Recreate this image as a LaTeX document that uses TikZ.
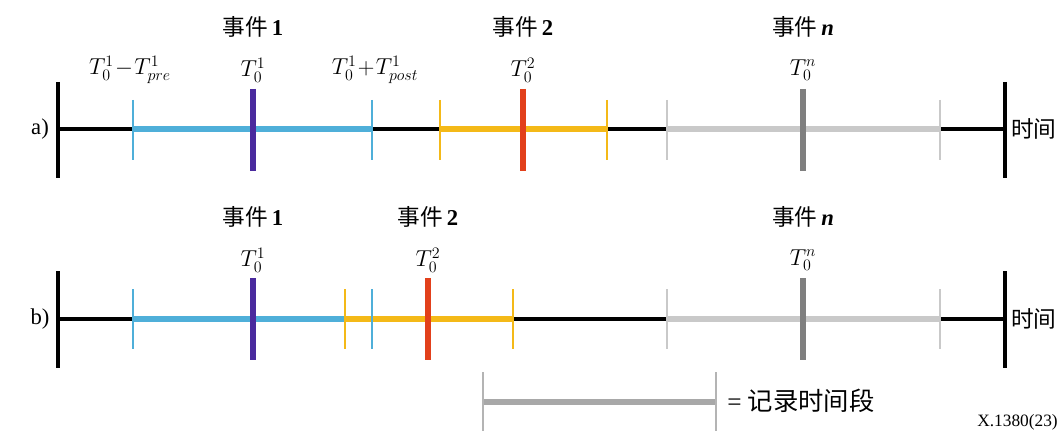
\documentclass[tikz,border=0pt]{standalone}
\usepackage{fontspec}
\setmainfont{Liberation Serif}
\newfontfamily\cjk{Noto Sans CJK SC}
\definecolor{cblue}{HTML}{4FAFD9}
\definecolor{cpurple}{HTML}{4A2A9E}
\definecolor{cred}{HTML}{E2401B}
\definecolor{cyellow}{HTML}{F4B918}
\definecolor{clgray}{HTML}{C9C9C9}
\definecolor{cdgray}{HTML}{7F7F7F}
\definecolor{clegend}{HTML}{A8A8A8}
\definecolor{clegtick}{HTML}{B4B4B4}
\tikzset{
  axisline/.style={line width=2.3pt,black},
  endbar/.style={line width=2.6pt,black},
  span/.style={line width=5pt},
  tick/.style={line width=1.6pt},
  centre/.style={line width=4pt},
  evlabel/.style={font=\fontsize{17}{19}\selectfont, inner sep=0pt},
  tlabel/.style={font=\fontsize{18}{20}\selectfont, inner sep=0pt},
  rowlabel/.style={font=\fontsize{17}{19}\selectfont, inner sep=0pt},
}
\newcommand{\ev}[1]{{\cjk 事件}\,#1}
\begin{document}
\begin{tikzpicture}[x=0.75pt,y=-0.75pt]
\useasboundingbox (0,0) rectangle (1060,431);
\clip (0,0) rectangle (1060,431);

% ---------------- row a ----------------
\coordinate (aL) at (58,129);
\coordinate (aR) at (1005,129);
\draw[axisline] (aL) -- (aR);
\draw[endbar] (58,82) -- (58,178);
\draw[endbar] (1005,82) -- (1005,178);
% event 1
\coordinate (a1s) at (133,129); \coordinate (a1e) at (372,129);
\draw[span,cblue] (a1s) -- (a1e);
\draw[tick,cblue] (133,100) -- (133,160);
\draw[tick,cblue] (372,100) -- (372,160);
\draw[centre,cpurple] (253,89) -- (253,171);
% event 2
\coordinate (a2s) at (440,129); \coordinate (a2e) at (607,129);
\draw[span,cyellow] (a2s) -- (a2e);
\draw[tick,cyellow] (440,100) -- (440,160);
\draw[tick,cyellow] (607,100) -- (607,160);
\draw[centre,cred] (523,89) -- (523,171);
% event n
\coordinate (ans) at (667,129); \coordinate (ane) at (940,129);
\draw[span,clgray] (ans) -- (ane);
\draw[tick,clgray] (667,100) -- (667,160);
\draw[tick,clgray] (940,100) -- (940,160);
\draw[centre,cdgray] (803,89) -- (803,171);

\node[rowlabel] (la) at (40,129) {a)};
\node[rowlabel,anchor=west] (ta) at (1011,129) {\cjk 时间};
\node[evlabel] (ea1) at (253,27) {\ev{\textbf{1}}};
\node[evlabel] (ea2) at (523,27) {\ev{\textbf{2}}};
\node[evlabel] (ean) at (803,27) {\ev{\textbf{\textit{n}}}};
\node[tlabel] (tpre) at (130,70) {$T_0^1\!-\!T_{pre}^1$};
\node[tlabel] (t01a) at (253,70) {$T_0^1$};
\node[tlabel] (tpost) at (375,70) {$T_0^1\!+\!T_{post}^1$};
\node[tlabel] (t02a) at (523,70) {$T_0^2$};
\node[tlabel] (t0na) at (803,70) {$T_0^n$};

% ---------------- row b ----------------
\coordinate (bL) at (58,319);
\coordinate (bR) at (1005,319);
\draw[axisline] (bL) -- (bR);
\draw[endbar] (58,271) -- (58,368);
\draw[endbar] (1005,271) -- (1005,368);
% event 1
\coordinate (b1s) at (133,319); \coordinate (b1c) at (345,319);
\draw[span,cblue] (b1s) -- (b1c);
% event 2
\coordinate (b2s) at (345,319); \coordinate (b2e) at (513,319);
\draw[span,cyellow] (b2s) -- (b2e);
\draw[tick,cblue] (133,289) -- (133,349);
\draw[tick,cyellow] (345,289) -- (345,349);
\draw[tick,cblue] (372,289) -- (372,349);
\draw[tick,cyellow] (513,289) -- (513,349);
\draw[centre,cpurple] (253,278) -- (253,360);
\draw[centre,cred] (428,278) -- (428,360);
% event n
\coordinate (bns) at (667,319); \coordinate (bne) at (940,319);
\draw[span,clgray] (bns) -- (bne);
\draw[tick,clgray] (667,289) -- (667,349);
\draw[tick,clgray] (940,289) -- (940,349);
\draw[centre,cdgray] (803,278) -- (803,360);

\node[rowlabel] (lb) at (40,319) {b)};
\node[rowlabel,anchor=west] (tb) at (1011,319) {\cjk 时间};
\node[evlabel] (eb1) at (253,217) {\ev{\textbf{1}}};
\node[evlabel] (eb2) at (428,217) {\ev{\textbf{2}}};
\node[evlabel] (ebn) at (803,217) {\ev{\textbf{\textit{n}}}};
\node[tlabel] (t01b) at (253,260) {$T_0^1$};
\node[tlabel] (t02b) at (428,260) {$T_0^2$};
\node[tlabel] (t0nb) at (803,260) {$T_0^n$};

% ---------------- legend ----------------
\coordinate (gl) at (483,402); \coordinate (gr) at (716,402);
\draw[line width=3.8pt,clegend] (gl) -- (gr);
\draw[line width=2pt,clegtick] (483,372) -- (483,440);
\draw[line width=2pt,clegtick] (716,372) -- (716,440);
\node[rowlabel,anchor=west,font=\fontsize{19}{21}\selectfont] (leg) at (727,401) {= {\cjk 记录时间段}};
\node[font=\fontsize{13}{15}\selectfont,inner sep=0pt,anchor=east] (code) at (1058,422) {X.1380(23)};
\end{tikzpicture}
\end{document}
